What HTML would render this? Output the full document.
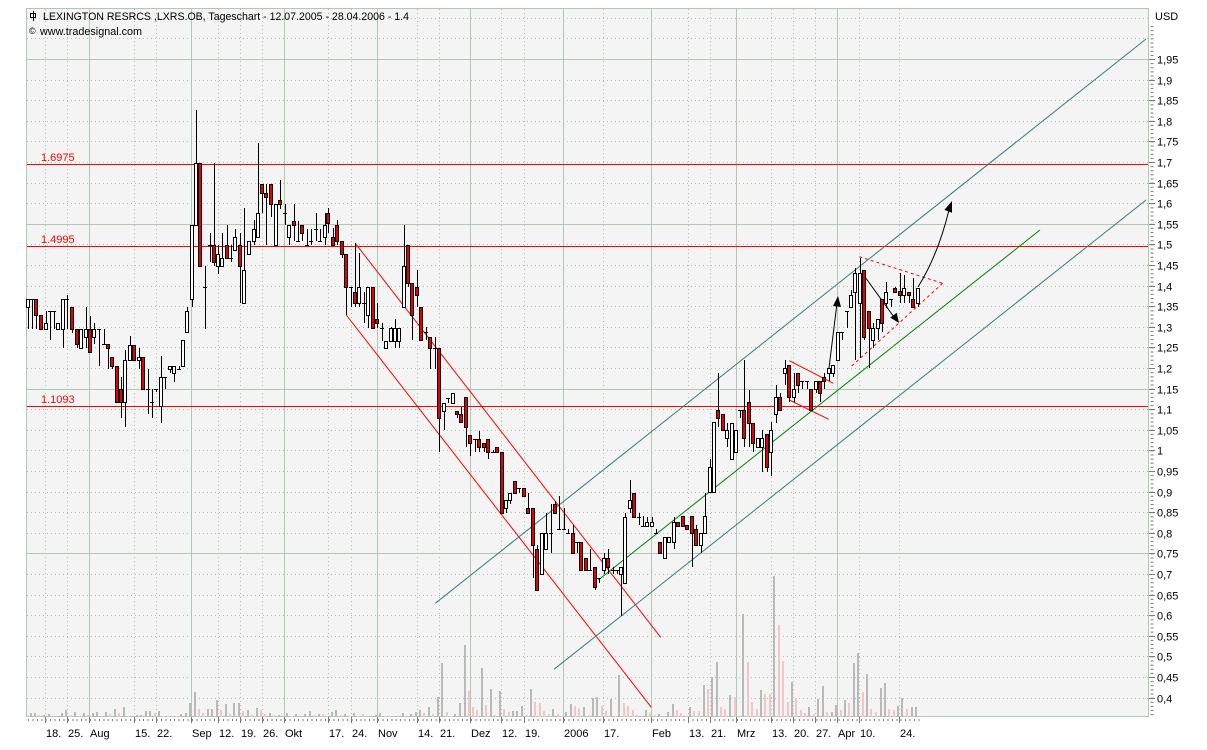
<!DOCTYPE html>
<html><head><meta charset="utf-8"><style>
html,body{margin:0;padding:0;background:#fff;}
svg{display:block;}
text{font-family:"Liberation Sans",Arial,sans-serif;}
</style></head><body>
<svg width="1207" height="750" viewBox="0 0 1207 750" xmlns="http://www.w3.org/2000/svg">
<rect x="0" y="0" width="1207" height="750" fill="#fff"/>
<rect x="26" y="8" width="1123" height="709" fill="#f4f4f4"/>
<!-- dotted horizontal grid -->
<g stroke="#a6c4a6" stroke-width="1" stroke-dasharray="1 3" shape-rendering="crispEdges">
<path d="M27 18.5H1148M27 38.5H1148M27 80.5H1148M27 100.5H1148M27 121.5H1148M27 141.5H1148M27 162.5H1148M27 183.5H1148M27 203.5H1148M27 244.5H1148M27 265.5H1148M27 286.5H1148M27 306.5H1148M27 327.5H1148M27 347.5H1148M27 368.5H1148M27 409.5H1148M27 430.5H1148M27 450.5H1148M27 471.5H1148M27 492.5H1148M27 512.5H1148M27 533.5H1148M27 574.5H1148M27 595.5H1148M27 615.5H1148M27 636.5H1148M27 656.5H1148M27 677.5H1148M27 698.5H1148"/>
<path d="M45.5 9V717M67.5 9V717M134.5 9V717M156.5 9V717M218.5 9V717M240.5 9V717M262.5 9V717M328.5 9V717M351.5 9V717M417.5 9V717M439.5 9V717M501.5 9V717M524.5 9V717M603.5 9V717M688.5 9V717M710.5 9V717M771.5 9V717M793.5 9V717M815.5 9V717M859.5 9V717M899.5 9V717"/>
</g>
<!-- solid grid -->
<g stroke="#b2c8b2" stroke-width="1" shape-rendering="crispEdges" fill="none">
<path d="M26 59.5H1149M26 224.5H1149M26 389.5H1149M26 553.5H1149"/>
<path d="M89.5 8V717M191.5 8V717M284.5 8V717M377.5 8V717M470.5 8V717M563.5 8V717M651.5 8V717M736.5 8V717M837.5 8V717"/>
<rect x="26.5" y="8.5" width="1122" height="708"/>
</g>
<!-- volume bars -->
<g fill="#b9b9b9" shape-rendering="crispEdges">
<rect x="30" y="713" width="2" height="4"/><rect x="34" y="713" width="2" height="4"/><rect x="43" y="715" width="2" height="2"/><rect x="48" y="714" width="2" height="3"/><rect x="56" y="716" width="2" height="1"/><rect x="61" y="713" width="2" height="4"/><rect x="65" y="710" width="2" height="7"/><rect x="74" y="712" width="2" height="5"/><rect x="83" y="713" width="2" height="4"/><rect x="92" y="713" width="2" height="4"/><rect x="96" y="712" width="2" height="5"/><rect x="105" y="712" width="2" height="5"/><rect x="114" y="709" width="2" height="8"/><rect x="123" y="707" width="2" height="10"/><rect x="136" y="715" width="2" height="2"/><rect x="140" y="715" width="2" height="2"/><rect x="145" y="711" width="2" height="6"/><rect x="149" y="711" width="2" height="6"/><rect x="158" y="711" width="2" height="6"/><rect x="180" y="714" width="2" height="3"/><rect x="185" y="713" width="2" height="4"/><rect x="189" y="703" width="2" height="14"/><rect x="194" y="692" width="2" height="25"/><rect x="207" y="709" width="2" height="8"/><rect x="211" y="709" width="2" height="8"/><rect x="216" y="700" width="2" height="17"/><rect x="225" y="704" width="2" height="13"/><rect x="233" y="703" width="2" height="14"/><rect x="238" y="703" width="2" height="14"/><rect x="247" y="710" width="2" height="7"/><rect x="256" y="708" width="2" height="9"/><rect x="269" y="713" width="2" height="4"/><rect x="278" y="715" width="2" height="2"/><rect x="286" y="713" width="2" height="4"/><rect x="295" y="714" width="2" height="3"/><rect x="304" y="714" width="2" height="3"/><rect x="309" y="711" width="2" height="6"/><rect x="318" y="714" width="2" height="3"/><rect x="331" y="712" width="2" height="5"/><rect x="335" y="710" width="2" height="7"/><rect x="344" y="714" width="2" height="3"/><rect x="353" y="713" width="2" height="4"/><rect x="375" y="715" width="2" height="2"/><rect x="379" y="713" width="2" height="4"/><rect x="402" y="713" width="2" height="4"/><rect x="410" y="714" width="2" height="3"/><rect x="415" y="712" width="2" height="5"/>
<rect x="419" y="710" width="2" height="7"/><rect x="428" y="707" width="2" height="10"/><rect x="437" y="697" width="2" height="20"/><rect x="441" y="663" width="2" height="54"/><rect x="454" y="714" width="2" height="3"/><rect x="459" y="703" width="2" height="14"/><rect x="464" y="645" width="2" height="72"/><rect x="481" y="668" width="2" height="49"/><rect x="490" y="689" width="2" height="28"/><rect x="499" y="691" width="2" height="26"/><rect x="512" y="711" width="2" height="6"/><rect x="516" y="711" width="2" height="6"/><rect x="521" y="706" width="2" height="11"/><rect x="530" y="689" width="2" height="28"/><rect x="552" y="709" width="2" height="8"/><rect x="565" y="712" width="2" height="5"/><rect x="570" y="704" width="2" height="13"/><rect x="583" y="707" width="2" height="10"/><rect x="592" y="698" width="2" height="19"/><rect x="596" y="697" width="2" height="20"/><rect x="610" y="699" width="2" height="18"/><rect x="618" y="675" width="2" height="42"/><rect x="645" y="710" width="2" height="7"/><rect x="658" y="714" width="2" height="3"/><rect x="667" y="712" width="2" height="5"/><rect x="672" y="704" width="2" height="13"/><rect x="689" y="707" width="2" height="10"/><rect x="703" y="685" width="2" height="32"/><rect x="711" y="677" width="2" height="40"/><rect x="716" y="662" width="2" height="55"/><rect x="729" y="695" width="2" height="22"/><rect x="742" y="614" width="2" height="103"/><rect x="760" y="690" width="2" height="27"/><rect x="773" y="576" width="2" height="141"/><rect x="791" y="682" width="2" height="35"/><rect x="808" y="707" width="2" height="10"/><rect x="817" y="699" width="2" height="18"/><rect x="822" y="686" width="2" height="31"/><rect x="831" y="712" width="2" height="5"/><rect x="835" y="705" width="2" height="12"/><rect x="844" y="700" width="2" height="17"/><rect x="853" y="663" width="2" height="54"/><rect x="857" y="653" width="2" height="64"/><rect x="866" y="674" width="2" height="43"/><rect x="880" y="688" width="2" height="29"/><rect x="884" y="683" width="2" height="34"/><rect x="897" y="706" width="2" height="11"/><rect x="901" y="698" width="2" height="19"/><rect x="911" y="707" width="2" height="10"/><rect x="915" y="707" width="2" height="10"/>
</g>
<g fill="#f0c6c6" shape-rendering="crispEdges">
<rect x="38" y="715" width="2" height="2"/><rect x="70" y="715" width="2" height="2"/><rect x="78" y="716" width="2" height="1"/><rect x="87" y="715" width="2" height="2"/><rect x="101" y="716" width="2" height="1"/><rect x="109" y="714" width="2" height="3"/><rect x="118" y="713" width="2" height="4"/><rect x="127" y="716" width="2" height="1"/><rect x="154" y="713" width="2" height="4"/><rect x="162" y="716" width="2" height="1"/><rect x="167" y="716" width="2" height="1"/><rect x="172" y="716" width="2" height="1"/><rect x="176" y="716" width="2" height="1"/><rect x="198" y="709" width="2" height="8"/><rect x="202" y="713" width="2" height="4"/><rect x="220" y="710" width="2" height="7"/><rect x="229" y="714" width="2" height="3"/><rect x="242" y="711" width="2" height="6"/><rect x="251" y="715" width="2" height="2"/><rect x="260" y="710" width="2" height="7"/><rect x="264" y="714" width="2" height="3"/><rect x="273" y="715" width="2" height="2"/><rect x="291" y="716" width="2" height="1"/><rect x="313" y="715" width="2" height="2"/><rect x="322" y="714" width="2" height="3"/><rect x="326" y="716" width="2" height="1"/><rect x="340" y="715" width="2" height="2"/><rect x="349" y="716" width="2" height="1"/><rect x="357" y="716" width="2" height="1"/><rect x="362" y="714" width="2" height="3"/><rect x="384" y="716" width="2" height="1"/><rect x="388" y="716" width="2" height="1"/>
<rect x="423" y="713" width="2" height="4"/><rect x="432" y="714" width="2" height="3"/><rect x="446" y="712" width="2" height="5"/><rect x="450" y="716" width="2" height="1"/><rect x="468" y="691" width="2" height="26"/><rect x="472" y="707" width="2" height="10"/><rect x="476" y="710" width="2" height="7"/><rect x="485" y="705" width="2" height="12"/><rect x="494" y="715" width="2" height="2"/><rect x="503" y="709" width="2" height="8"/><rect x="508" y="712" width="2" height="5"/><rect x="526" y="715" width="2" height="2"/><rect x="534" y="702" width="2" height="15"/><rect x="539" y="703" width="2" height="14"/><rect x="543" y="711" width="2" height="6"/><rect x="548" y="714" width="2" height="3"/><rect x="557" y="714" width="2" height="3"/><rect x="561" y="716" width="2" height="1"/><rect x="574" y="706" width="2" height="11"/><rect x="578" y="708" width="2" height="9"/><rect x="588" y="715" width="2" height="2"/><rect x="601" y="706" width="2" height="11"/><rect x="605" y="711" width="2" height="6"/><rect x="614" y="716" width="2" height="1"/><rect x="623" y="703" width="2" height="14"/><rect x="627" y="706" width="2" height="11"/><rect x="632" y="710" width="2" height="7"/><rect x="636" y="715" width="2" height="2"/><rect x="649" y="713" width="2" height="4"/><rect x="654" y="715" width="2" height="2"/><rect x="676" y="710" width="2" height="7"/><rect x="680" y="713" width="2" height="4"/><rect x="685" y="716" width="2" height="1"/><rect x="693" y="711" width="2" height="6"/><rect x="698" y="711" width="2" height="6"/><rect x="707" y="689" width="2" height="28"/><rect x="720" y="707" width="2" height="10"/><rect x="724" y="709" width="2" height="8"/><rect x="734" y="697" width="2" height="20"/><rect x="738" y="716" width="2" height="1"/><rect x="747" y="662" width="2" height="55"/><rect x="751" y="702" width="2" height="15"/><rect x="756" y="709" width="2" height="8"/><rect x="764" y="694" width="2" height="23"/><rect x="769" y="694" width="2" height="23"/><rect x="778" y="625" width="2" height="92"/><rect x="782" y="661" width="2" height="56"/><rect x="787" y="702" width="2" height="15"/><rect x="795" y="698" width="2" height="19"/><rect x="800" y="710" width="2" height="7"/><rect x="804" y="713" width="2" height="4"/><rect x="813" y="714" width="2" height="3"/><rect x="826" y="712" width="2" height="5"/><rect x="840" y="710" width="2" height="7"/><rect x="848" y="703" width="2" height="14"/><rect x="862" y="692" width="2" height="25"/><rect x="870" y="709" width="2" height="8"/><rect x="875" y="712" width="2" height="5"/><rect x="888" y="709" width="2" height="8"/><rect x="893" y="710" width="2" height="7"/><rect x="906" y="709" width="2" height="8"/>
</g>
<!-- horizontal red levels -->
<g stroke="#ff0000" stroke-width="1" shape-rendering="crispEdges">
<path d="M27 164.5H1148M27 246.5H1148M27 406.5H1148"/>
</g>
<g fill="#ff0000" font-size="11">
<text x="41" y="161">1.6975</text>
<text x="41" y="243">1.4995</text>
<text x="41" y="403">1.1093</text>
</g>
<!-- trend channels -->
<g fill="none" stroke-width="1">
<path d="M355.3 243.3L660.7 637.3M346.3 315L651.3 707.3" stroke="#ff0000"/>
<path d="M435.3 603.3L1146 39M554 669.3L1146 200" stroke="#337f7f"/>
<path d="M598.3 580L1040 230" stroke="#008000"/>
<path d="M789.3 360.7L833.3 383.3M789.3 400L828.7 419.3" stroke="#ff0000"/>
<path d="M859.3 256.7L942.7 283.3M851.7 366L942.7 283.3" stroke="#ff0000" stroke-dasharray="3 3"/>
<path d="M829 368L837 303M865 277L894 317M918 287Q938 255 949 210" stroke="#000"/>
</g>
<g fill="#000">
<polygon points="838,296 841,307 833,306"/>
<polygon points="899,323 896.7,312.8 890.3,317.6"/>
<polygon points="952,201 952,212.7 944.4,209.9"/>
</g>
<!-- candles: wicks -->
<path fill="none" stroke="#000" stroke-width="1" shape-rendering="crispEdges" d="M28.5 299V329M32.5 299V329M36.5 299V329M41.5 315V329M46.5 311V329M50.5 311V340M54.5 311V329M58.5 323V329M63.5 299V348M67.5 295V329M72.5 307V333M77.5 329V348M81.5 329V348M86.5 307V348M90.5 316V352M94.5 323V344M99.5 329V366M104.5 329V344M108.5 344V369M112.5 357V369M117.5 366V402M121.5 377V418M125.5 350V427M130.5 336V360M134.5 345V360M139.5 348V369M143.5 357V389M148.5 369V414M152.5 389V418M156.5 389V392M161.5 356V423M165.5 377V389M170.5 366V373M174.5 366V382M179.5 366V369M183.5 340V366M187.5 307V332M192.5 225V307M196.5 110V225M200.5 163V266M205.5 266V329M210.5 233V262M214.5 163V266M218.5 245V274M222.5 233V266M227.5 225V258M231.5 245V262M235.5 229V250M240.5 233V303M244.5 208V303M249.5 241V254M254.5 220V245M258.5 143V237M262.5 184V213M266.5 184V245M271.5 184V217M276.5 204V245M280.5 180V209M285.5 204V225M289.5 225V245M294.5 204V241M298.5 221V241M302.5 225V241M307.5 229V245M311.5 229V245M316.5 213V241M320.5 229V241M325.5 213V245M328.5 208V233M333.5 228V245M337.5 220V245M342.5 241V258M346.5 254V315M351.5 287V307M355.5 243V307M359.5 253V307M364.5 292V323M368.5 287V328M373.5 287V328M377.5 303V328M382.5 323V341M386.5 341V348M391.5 327V341M395.5 319V348M399.5 328V348M404.5 225V307M408.5 245V287M412.5 283V340M417.5 270V307M421.5 307V340M426.5 327V340M430.5 337V369M435.5 337V369M439.5 348V452M444.5 403V430M448.5 398V403M453.5 393V403M457.5 411V418M461.5 407V422M466.5 397V447M470.5 435V456M475.5 439V452M479.5 431V452M484.5 443V452M488.5 439V459M493.5 450V453M497.5 447V452M502.5 452V513M506.5 500V513M510.5 493V504M515.5 481V493M519.5 488V493M524.5 488V496M528.5 493V513M533.5 508V578M537.5 545V590M542.5 533V574M546.5 513V549M551.5 504V553M555.5 501V513M559.5 496V529M564.5 508V529M568.5 529V533M573.5 525V553M577.5 542V553M581.5 542V570M586.5 558V570M590.5 549V570M595.5 567V590M599.5 578V583M604.5 553V574M608.5 549V574M613.5 567V574M617.5 570V574M621.5 567V616M625.5 513V583M630.5 480V513M634.5 493V517M639.5 513V525M643.5 516V526M647.5 517V526M652.5 517V526M656.5 529V533M660.5 542V553M665.5 537V558M669.5 537V542M674.5 517V549M678.5 522V526M683.5 516V526M687.5 525V529M692.5 516V567M696.5 525V545M701.5 533V553M705.5 493V533M710.5 459V492M714.5 422V492M718.5 373V427M723.5 414V430M727.5 423V447M732.5 423V459M736.5 430V452M740.5 410V418M744.5 360V447M749.5 390V447M753.5 423V452M758.5 438V447M762.5 430V472M767.5 434V472M771.5 422V476M776.5 385V423M780.5 393V410M785.5 360V385M789.5 365V402M794.5 373V402M798.5 373V393M802.5 381V389M807.5 381V389M811.5 389V410M816.5 381V393M820.5 381V402M824.5 373V389M829.5 368V381M833.5 365V377M838.5 332V360M842.5 332V340M847.5 311V328M851.5 290V307M855.5 268V360M860.5 258V358M864.5 270V340M869.5 311V368M873.5 323V348M878.5 319V340M882.5 299V332M886.5 282V308M891.5 299V307M895.5 287V292M900.5 273V303M904.5 275V303M909.5 292V303M913.5 278V308M918.5 288V307
M30 299.5h4M48 311.5h4M52 311.5h4M65 299.5h4M97 329.5h4M102 344.5h4M146 389.5h4M150 402.5h4M154 389.5h4M163 377.5h4M177 369.5h4M203 287.5h4M208 245.5h4M229 258.5h4M283 213.5h4M296 241.5h4M305 245.5h4M309 241.5h4M314 229.5h4M318 241.5h4M349 287.5h4M362 303.5h4M380 328.5h4M424 332.5h4M433 348.5h4M446 398.5h4M473 439.5h4M491 452.5h4M517 488.5h4M549 533.5h4M557 529.5h4M562 529.5h4M566 533.5h4M575 542.5h4M588 570.5h4M597 578.5h4M611 570.5h4M615 570.5h4M637 517.5h4M641 526.5h4M654 533.5h4M738 410.5h4M800 381.5h4M805 381.5h4M840 332.5h4M845 311.5h4M889 299.5h4"/>
<!-- white bodies -->
<g fill="#fff" stroke="#000" stroke-width="1" shape-rendering="crispEdges">
<rect x="26.5" y="299.5" width="3" height="8"/><rect x="44.5" y="323.5" width="3" height="6"/><rect x="56.5" y="323.5" width="3" height="6"/><rect x="61.5" y="299.5" width="3" height="30"/><rect x="79.5" y="329.5" width="3" height="19"/><rect x="84.5" y="329.5" width="3" height="8"/><rect x="92.5" y="329.5" width="3" height="8"/><rect x="123.5" y="360.5" width="3" height="42"/><rect x="128.5" y="345.5" width="3" height="15"/><rect x="137.5" y="357.5" width="3" height="3"/><rect x="159.5" y="377.5" width="3" height="29"/><rect x="168.5" y="366.5" width="3" height="3"/><rect x="172.5" y="366.5" width="3" height="7"/><rect x="181.5" y="340.5" width="3" height="26"/><rect x="185.5" y="311.5" width="3" height="21"/><rect x="190.5" y="225.5" width="3" height="74"/><rect x="194.5" y="163.5" width="3" height="62"/><rect x="216.5" y="254.5" width="3" height="12"/><rect x="220.5" y="258.5" width="3" height="8"/><rect x="233.5" y="237.5" width="3" height="13"/><rect x="242.5" y="270.5" width="3" height="33"/><rect x="247.5" y="241.5" width="3" height="13"/><rect x="252.5" y="229.5" width="3" height="12"/><rect x="256.5" y="213.5" width="3" height="24"/><rect x="274.5" y="204.5" width="3" height="41"/><rect x="287.5" y="225.5" width="3" height="12"/><rect x="323.5" y="225.5" width="3" height="12"/><rect x="357.5" y="287.5" width="3" height="16"/><rect x="366.5" y="287.5" width="3" height="28"/><rect x="384.5" y="341.5" width="3" height="7"/><rect x="389.5" y="328.5" width="3" height="13"/><rect x="393.5" y="328.5" width="3" height="13"/><rect x="397.5" y="328.5" width="3" height="13"/><rect x="402.5" y="266.5" width="3" height="41"/><rect x="442.5" y="403.5" width="3" height="8"/><rect x="451.5" y="393.5" width="3" height="10"/><rect x="504.5" y="500.5" width="3" height="8"/><rect x="508.5" y="493.5" width="3" height="7"/><rect x="540.5" y="533.5" width="3" height="41"/><rect x="544.5" y="533.5" width="3" height="16"/><rect x="602.5" y="558.5" width="3" height="12"/><rect x="619.5" y="567.5" width="3" height="7"/><rect x="623.5" y="517.5" width="3" height="66"/><rect x="628.5" y="500.5" width="3" height="8"/><rect x="645.5" y="522.5" width="3" height="4"/><rect x="650.5" y="522.5" width="3" height="4"/><rect x="663.5" y="537.5" width="3" height="21"/><rect x="667.5" y="537.5" width="3" height="5"/><rect x="672.5" y="522.5" width="3" height="20"/><rect x="699.5" y="533.5" width="3" height="12"/><rect x="703.5" y="516.5" width="3" height="17"/><rect x="708.5" y="467.5" width="3" height="25"/><rect x="712.5" y="422.5" width="3" height="70"/><rect x="725.5" y="430.5" width="3" height="8"/><rect x="730.5" y="423.5" width="3" height="36"/><rect x="734.5" y="430.5" width="3" height="22"/><rect x="756.5" y="438.5" width="3" height="9"/><rect x="760.5" y="438.5" width="3" height="9"/><rect x="769.5" y="430.5" width="3" height="22"/><rect x="774.5" y="397.5" width="3" height="17"/><rect x="783.5" y="368.5" width="3" height="5"/><rect x="792.5" y="389.5" width="3" height="8"/><rect x="814.5" y="381.5" width="3" height="8"/><rect x="827.5" y="368.5" width="3" height="5"/><rect x="831.5" y="365.5" width="3" height="8"/><rect x="836.5" y="332.5" width="3" height="28"/><rect x="849.5" y="295.5" width="3" height="12"/><rect x="853.5" y="273.5" width="3" height="19"/><rect x="858.5" y="273.5" width="3" height="30"/><rect x="871.5" y="328.5" width="3" height="12"/><rect x="876.5" y="319.5" width="3" height="9"/><rect x="884.5" y="292.5" width="3" height="11"/><rect x="902.5" y="288.5" width="3" height="7"/><rect x="916.5" y="288.5" width="3" height="15"/>
</g>
<!-- red bodies -->
<g fill="#e80000" stroke="#000" stroke-width="1" shape-rendering="crispEdges">
<rect x="34.5" y="299.5" width="3" height="16"/><rect x="39.5" y="315.5" width="3" height="14"/><rect x="70.5" y="307.5" width="3" height="22"/><rect x="75.5" y="329.5" width="3" height="15"/><rect x="88.5" y="329.5" width="3" height="23"/><rect x="106.5" y="344.5" width="3" height="4"/><rect x="110.5" y="357.5" width="3" height="9"/><rect x="115.5" y="366.5" width="3" height="36"/><rect x="119.5" y="389.5" width="3" height="13"/><rect x="132.5" y="345.5" width="3" height="15"/><rect x="141.5" y="357.5" width="3" height="32"/><rect x="198.5" y="163.5" width="3" height="103"/><rect x="212.5" y="245.5" width="3" height="17"/><rect x="225.5" y="245.5" width="3" height="13"/><rect x="238.5" y="245.5" width="3" height="21"/><rect x="260.5" y="184.5" width="3" height="9"/><rect x="264.5" y="193.5" width="3" height="4"/><rect x="269.5" y="184.5" width="3" height="20"/><rect x="278.5" y="200.5" width="3" height="4"/><rect x="292.5" y="221.5" width="3" height="4"/><rect x="300.5" y="225.5" width="3" height="8"/><rect x="326.5" y="213.5" width="3" height="10"/><rect x="331.5" y="237.5" width="3" height="8"/><rect x="335.5" y="225.5" width="3" height="16"/><rect x="340.5" y="241.5" width="3" height="13"/><rect x="344.5" y="254.5" width="3" height="33"/><rect x="353.5" y="292.5" width="3" height="11"/><rect x="371.5" y="287.5" width="3" height="41"/><rect x="375.5" y="319.5" width="3" height="4"/><rect x="406.5" y="245.5" width="3" height="38"/><rect x="410.5" y="283.5" width="3" height="32"/><rect x="415.5" y="287.5" width="3" height="8"/><rect x="419.5" y="307.5" width="3" height="33"/><rect x="428.5" y="337.5" width="3" height="11"/><rect x="437.5" y="348.5" width="3" height="70"/><rect x="455.5" y="411.5" width="3" height="3"/><rect x="459.5" y="414.5" width="3" height="8"/><rect x="464.5" y="397.5" width="3" height="30"/><rect x="468.5" y="435.5" width="3" height="8"/><rect x="477.5" y="439.5" width="3" height="8"/><rect x="482.5" y="443.5" width="3" height="4"/><rect x="486.5" y="439.5" width="3" height="13"/><rect x="495.5" y="447.5" width="3" height="5"/><rect x="500.5" y="452.5" width="3" height="61"/><rect x="513.5" y="481.5" width="3" height="12"/><rect x="522.5" y="488.5" width="3" height="8"/><rect x="526.5" y="508.5" width="3" height="5"/><rect x="531.5" y="508.5" width="3" height="37"/><rect x="535.5" y="549.5" width="3" height="41"/><rect x="553.5" y="504.5" width="3" height="9"/><rect x="571.5" y="533.5" width="3" height="20"/><rect x="579.5" y="542.5" width="3" height="28"/><rect x="584.5" y="558.5" width="3" height="12"/><rect x="593.5" y="567.5" width="3" height="20"/><rect x="606.5" y="558.5" width="3" height="9"/><rect x="632.5" y="493.5" width="3" height="24"/><rect x="658.5" y="542.5" width="3" height="11"/><rect x="676.5" y="522.5" width="3" height="4"/><rect x="681.5" y="516.5" width="3" height="10"/><rect x="685.5" y="525.5" width="3" height="4"/><rect x="690.5" y="516.5" width="3" height="17"/><rect x="694.5" y="529.5" width="3" height="16"/><rect x="716.5" y="410.5" width="3" height="8"/><rect x="721.5" y="414.5" width="3" height="16"/><rect x="742.5" y="410.5" width="3" height="28"/><rect x="747.5" y="402.5" width="3" height="21"/><rect x="751.5" y="423.5" width="3" height="20"/><rect x="765.5" y="434.5" width="3" height="33"/><rect x="778.5" y="397.5" width="3" height="13"/><rect x="787.5" y="365.5" width="3" height="32"/><rect x="796.5" y="373.5" width="3" height="12"/><rect x="809.5" y="389.5" width="3" height="21"/><rect x="818.5" y="381.5" width="3" height="12"/><rect x="822.5" y="377.5" width="3" height="4"/><rect x="862.5" y="270.5" width="3" height="67"/><rect x="867.5" y="311.5" width="3" height="17"/><rect x="880.5" y="299.5" width="3" height="24"/><rect x="893.5" y="288.5" width="3" height="4"/><rect x="898.5" y="291.5" width="3" height="4"/><rect x="907.5" y="292.5" width="3" height="3"/><rect x="911.5" y="299.5" width="3" height="8"/>
</g>
<!-- bottom axis ticks -->
<g stroke="#7a7a7a" stroke-width="1" shape-rendering="crispEdges" fill="none">
<line x1="28" y1="720" x2="920" y2="720" stroke-width="2" stroke-dasharray="1 3.43"/>
<path d="M45.5 717V723M67.5 717V723M89.5 717V723M134.5 717V723M156.5 717V723M191.5 717V723M218.5 717V723M240.5 717V723M262.5 717V723M284.5 717V723M328.5 717V723M351.5 717V723M377.5 717V723M417.5 717V723M439.5 717V723M470.5 717V723M501.5 717V723M524.5 717V723M563.5 717V723M603.5 717V723M651.5 717V723M688.5 717V723M710.5 717V723M736.5 717V723M771.5 717V723M793.5 717V723M815.5 717V723M837.5 717V723M859.5 717V723M899.5 717V723"/>
</g>
<g fill="#000" font-size="11">
<text x="46" y="737">18.</text><text x="68" y="737">25.</text><text x="90" y="737">Aug</text><text x="135" y="737">15.</text><text x="157" y="737">22.</text><text x="192" y="737">Sep</text><text x="219" y="737">12.</text><text x="241" y="737">19.</text><text x="263" y="737">26.</text><text x="285" y="737">Okt</text><text x="329" y="737">17.</text><text x="352" y="737">24.</text><text x="378" y="737">Nov</text><text x="418" y="737">14.</text><text x="440" y="737">21.</text><text x="471" y="737">Dez</text><text x="502" y="737">12.</text><text x="525" y="737">19.</text><text x="564" y="737">2006</text><text x="604" y="737">17.</text><text x="652" y="737">Feb</text><text x="689" y="737">13.</text><text x="711" y="737">21.</text><text x="737" y="737">Mrz</text><text x="772" y="737">13.</text><text x="794" y="737">20.</text><text x="816" y="737">27.</text><text x="838" y="737">Apr</text><text x="860" y="737">10.</text><text x="900" y="737">24.</text>
</g>
<!-- right axis -->
<g stroke="#7a7a7a" fill="none">
<line x1="1152" y1="26.04" x2="1152" y2="717" stroke-width="3" stroke-dasharray="1 3.12"/>
<path shape-rendering="crispEdges" stroke-width="1" d="M1149 59.5H1155M1149 80.5H1155M1149 100.5H1155M1149 121.5H1155M1149 141.5H1155M1149 162.5H1155M1149 183.5H1155M1149 203.5H1155M1149 224.5H1155M1149 244.5H1155M1149 265.5H1155M1149 286.5H1155M1149 306.5H1155M1149 327.5H1155M1149 347.5H1155M1149 368.5H1155M1149 389.5H1155M1149 409.5H1155M1149 430.5H1155M1149 450.5H1155M1149 471.5H1155M1149 492.5H1155M1149 512.5H1155M1149 533.5H1155M1149 553.5H1155M1149 574.5H1155M1149 595.5H1155M1149 615.5H1155M1149 636.5H1155M1149 656.5H1155M1149 677.5H1155M1149 698.5H1155"/>
</g>
<g fill="#000" font-size="11">
<text x="1155" y="20">USD</text>
<text x="1157" y="63.5">1,95</text><text x="1157" y="84.5">1,9</text><text x="1157" y="104.5">1,85</text><text x="1157" y="125.5">1,8</text><text x="1157" y="145.5">1,75</text><text x="1157" y="166.5">1,7</text><text x="1157" y="187.5">1,65</text><text x="1157" y="207.5">1,6</text><text x="1157" y="228.5">1,55</text><text x="1157" y="248.5">1,5</text><text x="1157" y="269.5">1,45</text><text x="1157" y="290.5">1,4</text><text x="1157" y="310.5">1,35</text><text x="1157" y="331.5">1,3</text><text x="1157" y="351.5">1,25</text><text x="1157" y="372.5">1,2</text><text x="1157" y="393.5">1,15</text><text x="1157" y="413.5">1,1</text><text x="1157" y="434.5">1,05</text><text x="1157" y="454.5">1</text><text x="1157" y="475.5">0,95</text><text x="1157" y="496.5">0,9</text><text x="1157" y="516.5">0,85</text><text x="1157" y="537.5">0,8</text><text x="1157" y="557.5">0,75</text><text x="1157" y="578.5">0,7</text><text x="1157" y="599.5">0,65</text><text x="1157" y="619.5">0,6</text><text x="1157" y="640.5">0,55</text><text x="1157" y="660.5">0,5</text><text x="1157" y="681.5">0,45</text><text x="1157" y="702.5">0,4</text>
</g>
<!-- title -->
<g stroke="#000" fill="none" shape-rendering="crispEdges">
<rect x="30.5" y="13.5" width="5" height="4"/>
<path d="M33.5 11V21"/>
</g>
<text x="43" y="20" font-size="11" fill="#000" textLength="366" lengthAdjust="spacingAndGlyphs">LEXINGTON RESRCS ,LXRS.OB, Tageschart - 12.07.2005 - 28.04.2006 - 1.4</text>
<text x="29" y="34" font-size="9" fill="#000">©</text>
<text x="40" y="35" font-size="11" fill="#000" textLength="102" lengthAdjust="spacingAndGlyphs">www.tradesignal.com</text>
</svg>
</body></html>
